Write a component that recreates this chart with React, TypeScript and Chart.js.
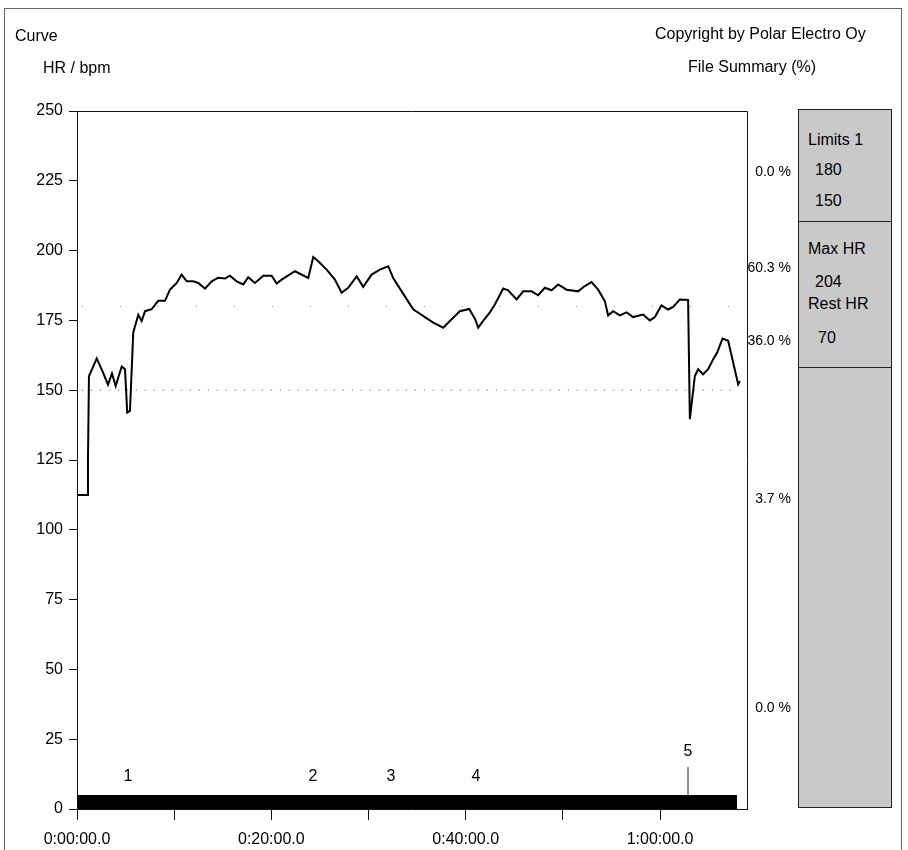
import React, { useEffect, useRef } from "react";
import { Chart, registerables } from "chart.js";

Chart.register(...registerables);

// ---- data ----
const hrMinutes = [0.10, 1.03, 1.13, 1.23, 2.03, 2.67, 3.19, 3.60, 3.98, 4.60, 4.94, 5.17, 5.45, 5.79, 6.31, 6.66, 7.00, 7.69, 8.36, 9.05, 9.57, 10.26, 10.77, 11.29, 11.97, 12.48, 13.17, 13.86, 14.54, 15.23, 15.74, 16.43, 17.11, 17.62, 18.31, 19.17, 20.03, 20.55, 21.06, 22.43, 23.80, 24.31, 24.83, 25.69, 26.54, 27.23, 27.91, 28.78, 29.45, 30.32, 31.17, 32.03, 32.54, 33.41, 34.60, 35.80, 36.66, 37.69, 38.37, 39.40, 40.36, 40.95, 41.29, 41.80, 42.49, 43.00, 43.86, 44.37, 45.24, 45.92, 46.78, 47.46, 48.15, 48.84, 49.52, 50.38, 51.57, 52.26, 52.95, 53.63, 54.32, 54.66, 55.18, 55.86, 56.55, 57.23, 58.26, 58.95, 59.47, 60.15, 60.83, 61.35, 62.04, 62.89, 63.07, 63.58, 63.92, 64.43, 64.95, 65.46, 65.88, 66.43, 67.01, 67.52, 68.04, 68.21];
const hrBpm = [112.5, 112.5, 125, 155, 161.4, 156.4, 152, 156, 151.5, 158.5, 157.5, 142, 142.6, 170.7, 177, 174.8, 178.3, 179, 182, 182, 186, 188.4, 191.4, 189, 189, 188.4, 186.4, 189, 190.3, 190, 191, 189, 187.9, 190.5, 188.4, 191, 191, 188.2, 189.6, 192.6, 190.2, 197.7, 196.2, 193.2, 189.6, 184.9, 186.7, 190.8, 187, 191.4, 193.2, 194.4, 190.2, 185.4, 179, 176.2, 174.2, 172.4, 174.8, 178.3, 179.1, 175.6, 172.4, 174.8, 177.9, 180.7, 186.4, 185.8, 182.5, 185.4, 185.4, 184, 186.7, 185.8, 187.9, 186, 185.4, 187.3, 188.7, 186, 181.9, 176.8, 178.3, 176.8, 177.9, 176.2, 177.1, 175, 176.2, 180.4, 178.9, 179.8, 182.5, 182.3, 139.6, 155, 157.5, 155.7, 157.5, 161, 163.5, 168.5, 167.7, 160, 152.1, 153.3];

const limitUpper = 180;
const limitLower = 150;
const exerciseEndMin = 67.92;
const axisMaxMin = 68.95;
const barHeightBpm = 5;

const lapNumbers = ["1", "2", "3", "4", "5"];
const lapMinutes = [5.25, 24.29, 32.31, 41.06, 62.88];
const lapLabelBpm = [11.5, 11.5, 11.5, 11.5, 20.4];
const lapMarkerBpm = [4.7, 15];

const yTicksMax = 250;
const yTickStep = 25;
const xTickStep = 10;
const xLabelEvery = 20;

const zonePercents = ["0.0 %", "60.3 %", "36.0 %", "3.7 %", "0.0 %"];
const zoneTops = [171, 267, 340, 498, 707];

const FONT = "'Liberation Sans', Arial, Helvetica, sans-serif";

function fmtTime(min: number): string {
  const h = Math.floor(min / 60);
  const m = Math.round(min % 60);
  return `${h}:${String(m).padStart(2, "0")}:00.0`;
}

const framePlugin = {
  id: "frameAndLaps",
  afterDatasetsDraw(chart: any) {
    const { ctx, chartArea, scales } = chart;
    const { left, top, right, bottom } = chartArea;
    ctx.save();
    ctx.strokeStyle = "#111";
    ctx.lineWidth = 1;
    ctx.beginPath();
    ctx.moveTo(left, top + 0.5);
    ctx.lineTo(right + 0.5, top + 0.5);
    ctx.lineTo(right + 0.5, bottom);
    ctx.stroke();
    ctx.fillStyle = "#000";
    ctx.font = `16px ${FONT}`;
    ctx.textAlign = "center";
    ctx.textBaseline = "middle";
    lapNumbers.forEach((lab, i) => {
      const px = scales.x.getPixelForValue(lapMinutes[i]);
      const py = scales.y.getPixelForValue(lapLabelBpm[i]);
      ctx.fillText(lab, px, py);
    });
    ctx.restore();
  },
};

export default function App() {
  const ref = useRef<HTMLCanvasElement | null>(null);

  useEffect(() => {
    if (!ref.current) return;
    const hrData = hrMinutes.map((m, i) => ({ x: m, y: hrBpm[i] }));
    const chart = new Chart(ref.current, {
      type: "line",
      data: {
        datasets: [
          {
            label: "HR",
            data: hrData,
            borderColor: "#000",
            borderWidth: 2,
            pointRadius: 0,
            tension: 0,
            fill: false,
          },
          {
            label: "lap5",
            data: [
              { x: lapMinutes[4], y: lapMarkerBpm[0] },
              { x: lapMinutes[4], y: lapMarkerBpm[1] },
            ],
            borderColor: "#222",
            borderWidth: 1,
            pointRadius: 0,
            fill: false,
          },
          {
            label: "upper",
            data: [
              { x: 0.5, y: limitUpper },
              { x: exerciseEndMin, y: limitUpper },
            ],
            borderColor: "#777",
            borderWidth: 1,
            borderDash: [1, 37],
            pointRadius: 0,
            fill: false,
          },
          {
            label: "lower",
            data: [
              { x: 0.5, y: limitLower },
              { x: exerciseEndMin, y: limitLower },
            ],
            borderColor: "#555",
            borderWidth: 1,
            borderDash: [1, 8],
            pointRadius: 0,
            fill: false,
          },
          {
            label: "bar",
            data: [
              { x: 0, y: barHeightBpm },
              { x: exerciseEndMin, y: barHeightBpm },
            ],
            borderColor: "#000",
            borderWidth: 0,
            backgroundColor: "#000",
            pointRadius: 0,
            fill: "origin",
          },
        ],
      },
      options: {
        animation: false,
        responsive: false,
        devicePixelRatio: 1,
        layout: { padding: { left: 0, top: 111, right: 161, bottom: 0 }, autoPadding: false } as any,
        plugins: {
          legend: { display: false },
          tooltip: { enabled: false },
          title: { display: false },
        },
        scales: {
          x: {
            type: "linear",
            min: 0,
            max: axisMaxMin,
            afterFit: (s: any) => {
              s.height = 41;
            },
            grid: {
              display: true,
              drawOnChartArea: false,
              drawTicks: true,
              tickLength: 11,
              color: "#111",
            },
            border: { display: true, color: "#111", width: 1 },
            ticks: {
              stepSize: xTickStep,
              includeBounds: false,
              autoSkip: false,
              maxRotation: 0,
              padding: 10,
              color: "#000",
              font: { family: FONT, size: 16 },
              callback: (v: any) => (Number(v) % xLabelEvery === 0 ? fmtTime(Number(v)) : ""),
            },
          },
          y: {
            type: "linear",
            min: 0,
            max: yTicksMax,
            afterFit: (s: any) => {
              s.width = 77;
            },
            grid: {
              display: true,
              drawOnChartArea: false,
              drawTicks: true,
              tickLength: 8,
              color: "#111",
            },
            border: { display: true, color: "#111", width: 1 },
            ticks: {
              stepSize: yTickStep,
              padding: 6,
              color: "#000",
              font: { family: FONT, size: 16 },
            },
          },
        },
      },
      plugins: [framePlugin],
    });
    return () => chart.destroy();
  }, []);

  const txt: React.CSSProperties = {
    position: "absolute",
    fontFamily: FONT,
    fontSize: 16,
    lineHeight: "16px",
    color: "#000",
    whiteSpace: "nowrap",
  };

  return (
    <div
      style={{
        position: "absolute",
        left: 0,
        top: 0,
        width: 908,
        height: 850,
        overflow: "hidden",
        background: "#fff",
      }}
    >
      <div
        style={{
          position: "absolute",
          left: 4,
          top: 8,
          width: 896,
          height: 860,
          border: "1px solid #666",
        }}
      />
      <canvas
        ref={ref}
        width={908}
        height={850}
        style={{ position: "absolute", left: 0, top: 0, width: 908, height: 850 }}
      />
      <div style={{ ...txt, left: 15, top: 28 }}>Curve</div>
      <div style={{ ...txt, left: 43, top: 60 }}>HR / bpm</div>
      <div style={{ ...txt, left: 655, top: 26 }}>Copyright by Polar Electro Oy</div>
      <div style={{ ...txt, left: 688, top: 59 }}>File Summary (%)</div>

      {zonePercents.map((p, i) => (
        <div
          key={i}
          style={{
            ...txt,
            fontSize: 14,
            lineHeight: "14px",
            right: 908 - 791,
            top: zoneTops[i] - 7,
            textAlign: "right",
          }}
        >
          {p}
        </div>
      ))}

      <div
        style={{
          position: "absolute",
          left: 798,
          top: 109,
          width: 94,
          height: 699,
          background: "#c9c9c9",
          border: "1px solid #222",
          boxSizing: "border-box",
        }}
      >
        <div style={{ position: "absolute", left: 0, right: 0, top: 111, borderTop: "1px solid #222" }} />
        <div style={{ position: "absolute", left: 0, right: 0, top: 257, borderTop: "1px solid #222" }} />
      </div>
      <div style={{ ...txt, left: 808, top: 132 }}>Limits 1</div>
      <div style={{ ...txt, left: 815, top: 162 }}>180</div>
      <div style={{ ...txt, left: 815, top: 193 }}>150</div>
      <div style={{ ...txt, left: 808, top: 241 }}>Max HR</div>
      <div style={{ ...txt, left: 815, top: 274 }}>204</div>
      <div style={{ ...txt, left: 808, top: 296 }}>Rest HR</div>
      <div style={{ ...txt, left: 818, top: 330 }}>70</div>
    </div>
  );
}
